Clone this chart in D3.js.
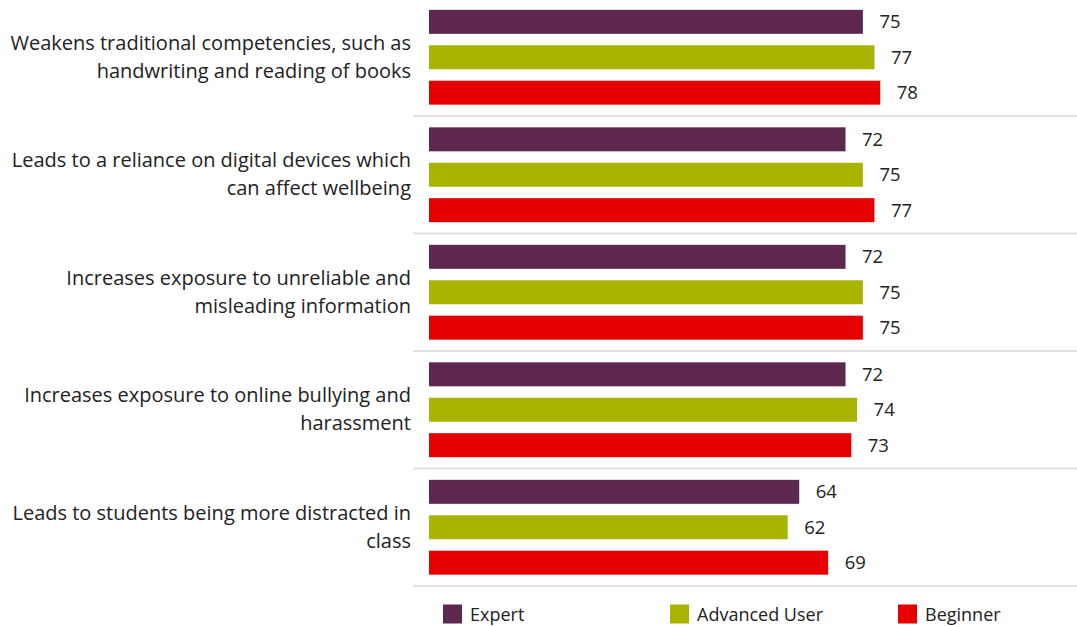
<!DOCTYPE html>
<html>
<head>
<meta charset="utf-8">
<script src="https://cdn.jsdelivr.net/npm/d3@7/dist/d3.min.js"></script>
<style>
  html, body { margin: 0; padding: 0; background: #fff; }
  svg { display: block; font-family: "Open Sans", sans-serif; }
</style>
</head>
<body>
<svg id="chart" width="1077" height="626"></svg>
<script>
// Statements (each split into the two lines it is shown on)
const categories = [
  ["Weakens traditional competencies, such as", "handwriting and reading of books"],
  ["Leads to a reliance on digital devices which", "can affect wellbeing"],
  ["Increases exposure to unreliable and", "misleading information"],
  ["Increases exposure to online bullying and", "harassment"],
  ["Leads to students being more distracted in", "class"]
];
const series = ["Expert", "Advanced User", "Beginner"];
const expert = [75, 72, 72, 72, 64];
const advancedUser = [77, 75, 75, 74, 62];
const beginner = [78, 77, 75, 73, 69];
const colors = ["#5e2750", "#a8b400", "#e60000"];

const values = [expert, advancedUser, beginner];
const keys = categories.map((c, i) => i);

const svg = d3.select("#chart");

const x = d3.scaleLinear().domain([0, 100]).range([429, 1007.5]);
const y = d3.scaleBand().domain(keys).range([-1.5, 586]).paddingInner(0);
const inner = d3.scaleBand().domain(series).range([0, y.bandwidth()])
  .paddingInner(0.323).paddingOuter(0.32);
const color = d3.scaleOrdinal().domain(series).range(colors);

// group separators
svg.append("g").selectAll("line").data(keys).join("line")
  .attr("x1", 413).attr("x2", 1077)
  .attr("y1", d => y(d) + y.bandwidth())
  .attr("y2", d => y(d) + y.bandwidth())
  .attr("stroke", "#e2e2e2").attr("stroke-width", 2);

// category labels
const lab = svg.append("g").selectAll("text").data(keys).join("text")
  .attr("text-anchor", "end")
  .attr("font-size", 20)
  .attr("fill", "#222");
lab.each(function(d) {
  const c = y(d) + y.bandwidth() / 2;
  d3.select(this).selectAll("tspan").data(categories[d]).join("tspan")
    .attr("x", 411)
    .attr("y", (t, j) => c - 7.5 + j * 28)
    .text(t => t);
});

// bars and value labels
const groups = svg.append("g").selectAll("g").data(keys).join("g")
  .attr("transform", d => `translate(0,${y(d)})`);

const cells = groups.selectAll("g").data(d => series.map((s, k) => ({ s, v: values[k][d] })))
  .join("g");

cells.append("rect")
  .attr("x", x(0))
  .attr("y", d => inner(d.s))
  .attr("width", d => x(d.v) - x(0))
  .attr("height", inner.bandwidth())
  .attr("fill", d => color(d.s));

cells.append("text")
  .attr("x", d => x(d.v) + 16.5)
  .attr("y", d => inner(d.s) + inner.bandwidth() / 2)
  .attr("dy", "0.36em")
  .attr("font-size", 18.5)
  .attr("fill", "#222")
  .text(d => d.v);

// legend
const legendX = [443, 670, 898];
const leg = svg.append("g").selectAll("g").data(series).join("g")
  .attr("transform", (d, i) => `translate(${legendX[i]},604.5)`);
leg.append("rect").attr("width", 19).attr("height", 19).attr("fill", d => color(d));
leg.append("text").attr("x", 27).attr("y", 16.5)
  .attr("font-size", 18).attr("fill", "#222").text(d => d);
</script>
</body>
</html>
